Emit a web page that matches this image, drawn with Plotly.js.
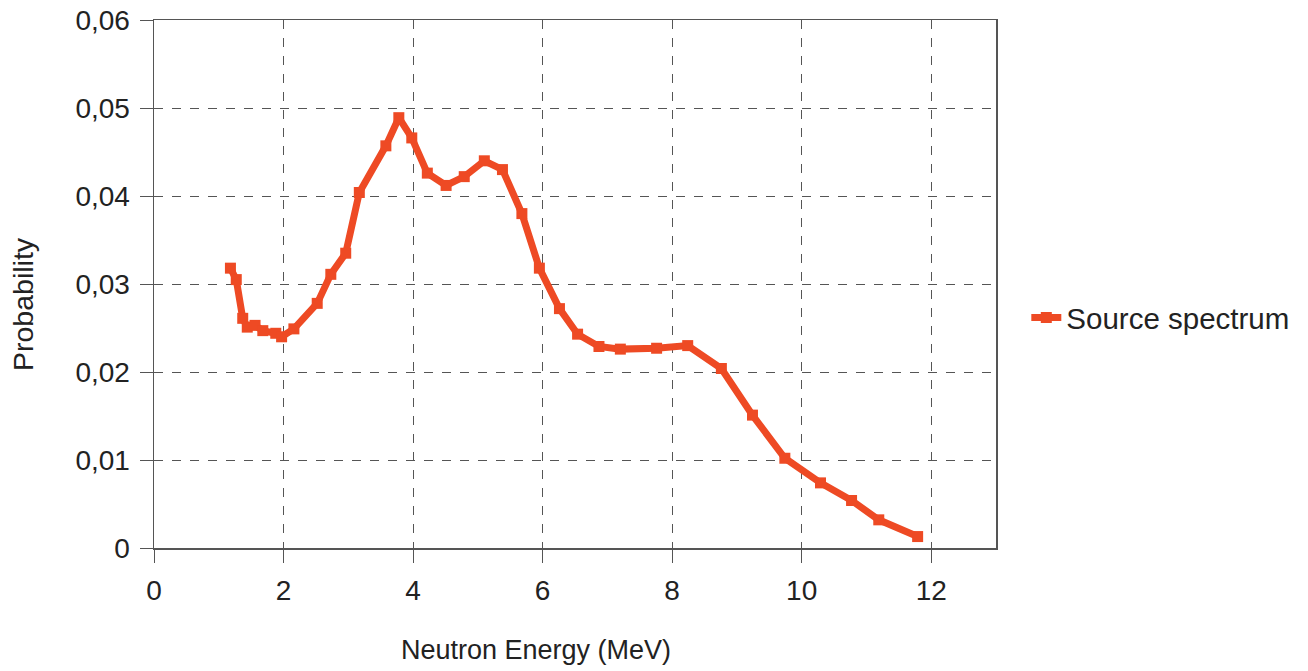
<!DOCTYPE html>
<html>
<head>
<meta charset="utf-8">
<script src="https://cdn.plot.ly/plotly-3.0.1.min.js"></script>
<style>
  html, body { margin: 0; padding: 0; background: #ffffff; }
  #chart { width: 1308px; height: 671px; }
</style>
</head>
<body>
<div id="chart"></div>
<script>
// Neutron energy (MeV)
const energy = [1.18, 1.27, 1.37, 1.44, 1.56, 1.68, 1.88, 1.97, 2.16, 2.52, 2.73, 2.96, 3.17, 3.58, 3.78, 3.98, 4.22, 4.51, 4.79, 5.10, 5.38, 5.68, 5.95, 6.26, 6.54, 6.87, 7.20, 7.76, 8.24, 8.76, 9.24, 9.74, 10.29, 10.77, 11.19, 11.79];
// Probability
const probability = [0.0318, 0.0305, 0.0261, 0.0251, 0.0253, 0.0247, 0.0244, 0.0240, 0.0249, 0.0278, 0.0311, 0.0335, 0.0404, 0.0457, 0.0489, 0.0466, 0.0426, 0.0412, 0.0422, 0.0440, 0.0430, 0.0380, 0.0318, 0.0272, 0.0243, 0.0229, 0.0226, 0.0227, 0.0230, 0.0204, 0.0151, 0.0102, 0.0074, 0.0054, 0.0032, 0.0013];
const seriesName = "Source spectrum";
const xTitle = "Neutron Energy (MeV)";
const yTitle = "Probability";

const lineColor = "#EE4A24";
const gridColor = "#555555";
const axisColor = "#555555";
const textColor = "#222222";
const fontFam = "'Liberation Sans', Arial, sans-serif";

const trace = {
  x: energy,
  y: probability,
  type: "scatter",
  mode: "lines+markers",
  name: seriesName,
  line: { color: lineColor, width: 7 },
  marker: { symbol: "square", size: 11, color: lineColor }
};

const layout = {
  width: 1308,
  height: 671,
  paper_bgcolor: "#ffffff",
  plot_bgcolor: "#ffffff",
  separators: ", ",
  margin: { l: 154, r: 312, t: 20, b: 123, pad: 0 },
  font: { family: fontFam, color: textColor },
  showlegend: true,
  legend: {
    x: 1.036, y: 0.436, xanchor: "left", yanchor: "middle",
    font: { size: 29.5, family: fontFam, color: textColor },
    bgcolor: "rgba(0,0,0,0)", borderwidth: 0
  },
  xaxis: {
    range: [0, 13],
    tickmode: "linear", tick0: 0, dtick: 2,
    showgrid: true, gridcolor: gridColor, griddash: "dash", gridwidth: 1,
    zeroline: false,
    showline: true, linecolor: axisColor, linewidth: 1.5, mirror: true,
    ticks: "outside", ticklen: 13, tickcolor: axisColor, tickwidth: 1,
    ticklabelstandoff: 4,
    tickfont: { size: 28, family: fontFam, color: textColor }
  },
  yaxis: {
    range: [0, 0.06],
    tickmode: "linear", tick0: 0, dtick: 0.01,
    showgrid: true, gridcolor: gridColor, griddash: "dash", gridwidth: 1,
    zeroline: false,
    showline: true, linecolor: axisColor, linewidth: 1.5, mirror: true,
    ticks: "outside", ticklen: 13, tickcolor: axisColor, tickwidth: 1,
    ticklabelstandoff: 4,
    tickfont: { size: 28, family: fontFam, color: textColor }
  },
  annotations: [
    {
      text: xTitle, xref: "paper", yref: "paper",
      x: (536 - 154) / 842, y: (548 - 650) / 528,
      xanchor: "center", yanchor: "middle", showarrow: false,
      font: { size: 27, family: fontFam, color: textColor }
    },
    {
      text: yTitle, xref: "paper", yref: "paper",
      x: (23 - 154) / 842, y: (548 - 304) / 528,
      xanchor: "center", yanchor: "middle", showarrow: false, textangle: -90,
      font: { size: 28.5, family: fontFam, color: textColor }
    }
  ]
};

Plotly.newPlot("chart", [trace], layout, { displayModeBar: false, staticPlot: true });
</script>
</body>
</html>
